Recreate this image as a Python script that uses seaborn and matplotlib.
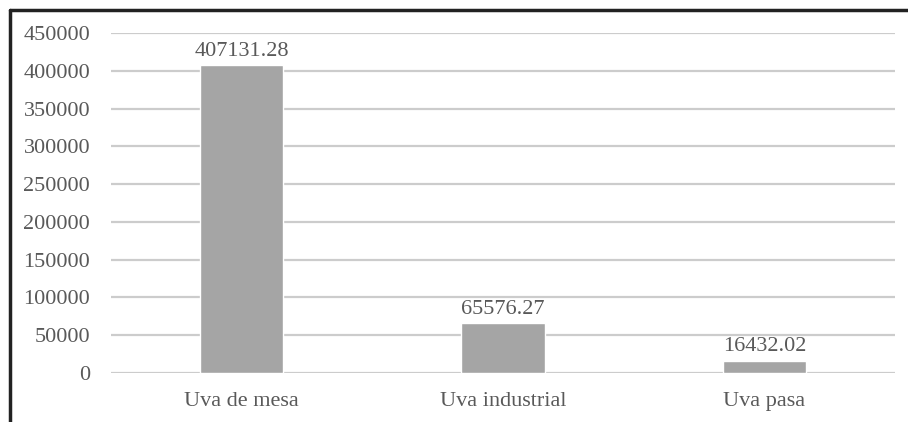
import matplotlib
matplotlib.use("Agg")
import matplotlib.pyplot as plt
from matplotlib.lines import Line2D
import seaborn as sns
import pandas as pd

categories = ["Uva de mesa", "Uva industrial", "Uva pasa"]
values = [407131.28, 65576.27, 16432.02]
value_labels = ["407131.28", "65576.27", "16432.02"]
y_ticks = [0, 50000, 100000, 150000, 200000, 250000, 300000, 350000, 400000, 450000]

df = pd.DataFrame({"categoria": categories, "valor": values})

sns.set_style("white")
plt.rcParams["font.family"] = ["Liberation Serif", "DejaVu Serif"]

text_color = "#595959"
fig = plt.figure(figsize=(9.08, 4.22), dpi=100)
ax = fig.add_axes([111 / 908, 1 - 373 / 422, (895 - 111) / 908, (373 - 33) / 422])

sns.barplot(data=df, x="categoria", y="valor", color="#a5a5a5", width=0.32,
            saturation=1, ax=ax, zorder=3)

ax.set_ylim(0, 450000)
ax.set_yticks(y_ticks)
ax.set_yticklabels([str(t) for t in y_ticks])
ax.set_xlim(-0.5, 2.5)
ax.set_xlabel("")
ax.set_ylabel("")
for s in ax.spines.values():
    s.set_visible(False)
ax.grid(axis="y", color="#cccccc", linewidth=1.6, zorder=0)
ax.grid(axis="x", visible=False)
ax.tick_params(axis="both", length=0, labelsize=16, colors=text_color)
ax.tick_params(axis="y", pad=15)
ax.tick_params(axis="x", pad=14)

ax.bar_label(ax.containers[0], labels=value_labels, padding=3,
             fontsize=16, color=text_color)

# frame lines along the top and left edges of the figure
fig.add_artist(Line2D([9.5 / 908, 1], [1 - 9.5 / 422, 1 - 9.5 / 422],
                      transform=fig.transFigure, color="#222222", linewidth=2.5))
fig.add_artist(Line2D([9.5 / 908, 9.5 / 908], [0, 1 - 9.5 / 422],
                      transform=fig.transFigure, color="#222222", linewidth=2.5))

fig.savefig("out.png", dpi=100, facecolor="white")
